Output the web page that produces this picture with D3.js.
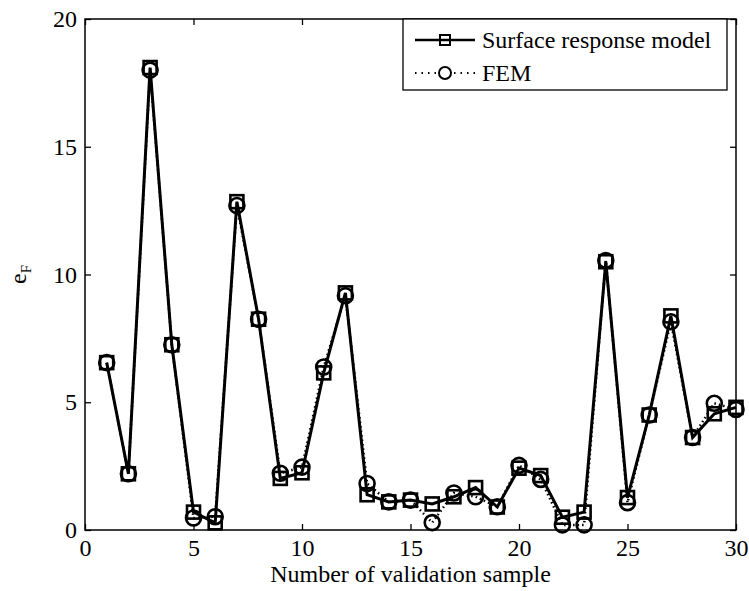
<!DOCTYPE html>
<html>
<head>
<meta charset="utf-8">
<script src="https://cdn.jsdelivr.net/npm/d3@7"></script>
<style>
  body { margin: 0; background: #fff; }
  svg { display: block; }
  text { font-family: "Liberation Serif", "Times New Roman", serif; fill: #000; }
</style>
</head>
<body>
<script>
// validation sample number
var samples = d3.range(1, 31);
// surface response model errors
var surfaceVals = [6.55, 2.2, 18.1, 7.25, 0.7, 0.28, 12.85, 8.25, 2.02, 2.24,
                   6.15, 9.28, 1.38, 1.1, 1.17, 1.02, 1.3, 1.66, 0.9, 2.42,
                   2.13, 0.5, 0.7, 10.5, 1.27, 4.5, 8.38, 3.62, 4.55, 4.8];
// FEM errors
var femVals = [6.55, 2.2, 18.0, 7.25, 0.47, 0.52, 12.7, 8.25, 2.22, 2.46,
               6.38, 9.17, 1.82, 1.1, 1.17, 0.29, 1.45, 1.3, 0.91, 2.53,
               1.98, 0.2, 0.2, 10.55, 1.07, 4.5, 8.15, 3.62, 4.96, 4.72];
var xTicks = [0, 5, 10, 15, 20, 25, 30];
var yTicks = [0, 5, 10, 15, 20];

var W = 749, H = 591;
var margin = {top: 19, right: 13, bottom: 61, left: 85};
var width = W - margin.left - margin.right,
    height = H - margin.top - margin.bottom;

var svg = d3.select("body").append("svg")
    .attr("width", W)
    .attr("height", H);

var g = svg.append("g")
    .attr("transform", "translate(" + margin.left + "," + margin.top + ")");

var x = d3.scaleLinear().domain([0, 30]).range([0, width]);
var y = d3.scaleLinear().domain([0, 20]).range([height, 0]);

// frame
g.append("rect")
    .attr("width", width).attr("height", height)
    .attr("fill", "none").attr("stroke", "#000").attr("stroke-width", 1.5);

// axes with inward ticks, mirrored on top/right
function styleAxis(sel) {
  sel.select(".domain").remove();
  sel.selectAll(".tick line").attr("stroke", "#000").attr("stroke-width", 1.3);
}
g.append("g")
    .attr("transform", "translate(0," + height + ")")
    .call(d3.axisBottom(x).tickValues(xTicks).tickSizeInner(-6).tickPadding(9))
    .call(styleAxis)
    .selectAll("text").attr("font-size", 24).attr("font-family", "Liberation Serif");
g.append("g")
    .call(d3.axisTop(x).tickValues(xTicks).tickSizeInner(-6).tickFormat(""))
    .call(styleAxis);
g.append("g")
    .call(d3.axisLeft(y).tickValues(yTicks).tickSizeInner(-6).tickPadding(8))
    .call(styleAxis)
    .selectAll("text").attr("font-size", 24).attr("font-family", "Liberation Serif");
g.append("g")
    .attr("transform", "translate(" + width + ",0)")
    .call(d3.axisRight(y).tickValues(yTicks).tickSizeInner(-6).tickFormat(""))
    .call(styleAxis);

// axis titles
svg.append("text")
    .attr("x", margin.left + width / 2)
    .attr("y", 582)
    .attr("text-anchor", "middle")
    .attr("font-size", 24)
    .text("Number of validation sample");

var yl = svg.append("text")
    .attr("transform", "translate(26," + (margin.top + height / 2) + ") rotate(-90)")
    .attr("text-anchor", "middle")
    .attr("font-size", 24);
yl.append("tspan").text("e");
yl.append("tspan").attr("font-size", 15).attr("dy", 5).text("F");

var line = d3.line()
    .x(function(d, i) { return x(samples[i]); })
    .y(function(d) { return y(d); });

// FEM dotted line
g.append("path")
    .datum(femVals)
    .attr("d", line)
    .attr("fill", "none").attr("stroke", "#000")
    .attr("stroke-width", 2.5).attr("stroke-dasharray", "1.5,3");

// surface response solid line
g.append("path")
    .datum(surfaceVals)
    .attr("d", line)
    .attr("fill", "none").attr("stroke", "#000")
    .attr("stroke-width", 3);

var sq = 13;
g.selectAll(".sq")
    .data(surfaceVals)
  .enter().append("rect")
    .attr("class", "sq")
    .attr("x", function(d, i) { return x(samples[i]) - sq / 2; })
    .attr("y", function(d) { return y(d) - sq / 2; })
    .attr("width", sq).attr("height", sq)
    .attr("fill", "none").attr("stroke", "#000").attr("stroke-width", 2.6);

g.selectAll(".circ")
    .data(femVals)
  .enter().append("circle")
    .attr("class", "circ")
    .attr("cx", function(d, i) { return x(samples[i]); })
    .attr("cy", function(d) { return y(d); })
    .attr("r", 7.5)
    .attr("fill", "none").attr("stroke", "#000").attr("stroke-width", 2.6);

// legend
var lg = svg.append("g");
lg.append("rect")
    .attr("x", 403).attr("y", 19).attr("width", 324).attr("height", 71)
    .attr("fill", "#fff").attr("stroke", "#000").attr("stroke-width", 1.3);

lg.append("line")
    .attr("x1", 415).attr("x2", 475).attr("y1", 40).attr("y2", 40)
    .attr("stroke", "#000").attr("stroke-width", 2.5);
lg.append("rect")
    .attr("x", 440).attr("y", 35).attr("width", 10).attr("height", 10)
    .attr("fill", "none").attr("stroke", "#000").attr("stroke-width", 2);
lg.append("text")
    .attr("x", 482).attr("y", 48).attr("font-size", 24)
    .text("Surface response model");

lg.append("line")
    .attr("x1", 415).attr("x2", 475).attr("y1", 73).attr("y2", 73)
    .attr("stroke", "#000").attr("stroke-width", 2).attr("stroke-dasharray", "1.5,5");
lg.append("circle")
    .attr("cx", 445).attr("cy", 73).attr("r", 6)
    .attr("fill", "#fff").attr("stroke", "#000").attr("stroke-width", 2);
lg.append("text")
    .attr("x", 482).attr("y", 81).attr("font-size", 24)
    .text("FEM");
</script>
</body>
</html>
